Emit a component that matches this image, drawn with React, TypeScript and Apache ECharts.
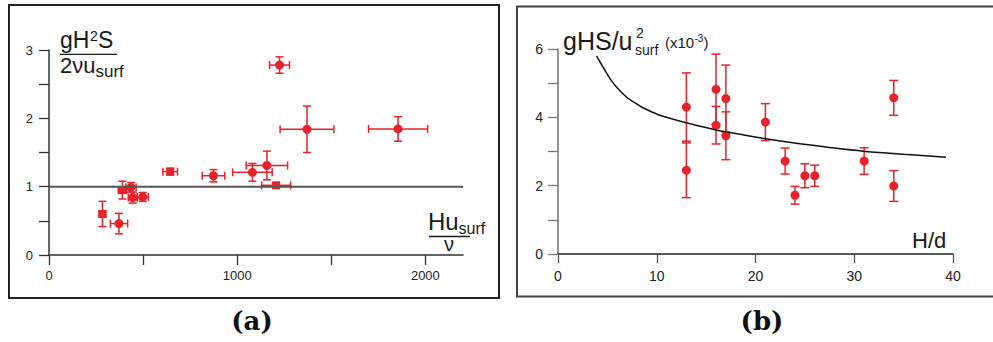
import React, { useEffect, useRef } from 'react';
import * as echarts from 'echarts';

const RED = '#e8222b';
const SANS = '"Liberation Sans", Arial, Helvetica, sans-serif';

// Panel (a): Hu_surf/ν against gH²S/(2νu_surf)
const reynolds = [284, 372, 390, 436, 445, 498, 644, 874, 1081, 1158, 1207, 1225, 1371, 1855];
const reynoldsErr = [18, 46, 22, 27, 24, 30, 39, 60, 105, 110, 77, 53, 143, 157];
const slopeRatio = [0.6, 0.46, 0.95, 0.99, 0.84, 0.85, 1.22, 1.16, 1.21, 1.31, 1.02, 2.78, 1.84, 1.845];
const slopeRatioErr = [0.185, 0.15, 0.13, 0.07, 0.08, 0.065, 0.05, 0.09, 0.13, 0.21, 0.03, 0.12, 0.34, 0.18];
const markerShape = ['rect', 'circle', 'rect', 'circle', 'circle', 'circle', 'rect', 'circle', 'circle', 'circle', 'rect', 'circle', 'circle', 'circle'];
const referenceLevel = 1;

const xTicksA = [0, 500, 1000, 1500, 2000];
const xLabelsA = [0, 1000, 2000];
const yTicksA = [0, 0.5, 1, 1.5, 2, 2.5, 3];
const yLabelsA = [0, 1, 2, 3];

// Panel (b): H/d against gHS/u²_surf (×10⁻³)
const depthRatio = [13, 13, 16, 16, 17, 17, 21, 23, 24, 25, 26, 31, 34, 34];
const friction = [4.3, 2.45, 4.82, 3.77, 4.55, 3.46, 3.86, 2.72, 1.72, 2.29, 2.29, 2.72, 4.57, 1.99];
const frictionErr = [1.0, 0.8, 1.03, 0.55, 0.98, 0.7, 0.54, 0.38, 0.26, 0.35, 0.31, 0.39, 0.51, 0.45];
// model curve, sampled along its length
const modelX = [3.9, 4.5, 5.3, 6.1, 7, 7.8, 8.6, 9.4, 10.3, 11.6, 13, 14.5, 16, 17.5, 19.1, 21, 22.7, 24.5, 27.5, 30.9, 35, 39.3];
const modelY = [5.8, 5.5, 5.12, 4.83, 4.58, 4.42, 4.28, 4.17, 4.06, 3.95, 3.84, 3.73, 3.63, 3.55, 3.47, 3.37, 3.3, 3.23, 3.12, 3.01, 2.92, 2.83];

const xTicksB = [0, 10, 20, 30, 40];
const yTicksB = [0, 1, 2, 3, 4, 5, 6];
const yLabelsB = [0, 2, 4, 6];

function errorBars(capHalf: number) {
  return (_params: any, api: any) => {
    const x = api.value(0);
    const y = api.value(1);
    const ex = api.value(2);
    const ey = api.value(3);
    const style = { stroke: RED, lineWidth: 1.5, fill: 'none' };
    const kids: any[] = [];
    const seg = (x1: number, y1: number, x2: number, y2: number) =>
      kids.push({ type: 'line', shape: { x1, y1, x2, y2 }, style });
    if (ey > 0) {
      const t = api.coord([x, y + ey]);
      const b = api.coord([x, y - ey]);
      seg(t[0], t[1], b[0], b[1]);
      seg(t[0] - capHalf, t[1], t[0] + capHalf, t[1]);
      seg(b[0] - capHalf, b[1], b[0] + capHalf, b[1]);
    }
    if (ex > 0) {
      const l = api.coord([x - ex, y]);
      const r = api.coord([x + ex, y]);
      seg(l[0], l[1], r[0], r[1]);
      seg(l[0], l[1] - capHalf, l[0], l[1] + capHalf);
      seg(r[0], r[1] - capHalf, r[0], r[1] + capHalf);
    }
    return { type: 'group', children: kids };
  };
}

// text placed by its alphabetic baseline
function txt(x: number, baseline: number, text: string, size: number, align: string = 'left', font: string = SANS, weight: string = 'normal', fill = '#1a1a1a') {
  return {
    type: 'text',
    x,
    y: baseline - 0.35 * size,
    style: {
      text,
      fontSize: size,
      fontFamily: font,
      fontWeight: weight,
      fill,
      align,
      verticalAlign: 'middle',
    },
  };
}

function hline(x1: number, x2: number, y: number, color = '#1a1a1a', w = 1.3) {
  return { type: 'line', shape: { x1, y1: y, x2, y2: y }, style: { stroke: color, lineWidth: w } };
}

function axisBase(color: string) {
  return {
    axisLine: { show: true, onZero: false, lineStyle: { color, width: 1.5 } },
    splitLine: { show: false },
  };
}

const plain = (v: number) => String(v);

export default function App() {
  const ref = useRef<HTMLDivElement>(null);

  useEffect(() => {
    if (!ref.current) return;
    const chart = echarts.init(ref.current, undefined, { renderer: 'svg' });

    const labelA = { fontSize: 13, color: '#222', fontFamily: SANS, formatter: plain };
    const labelB = { fontSize: 14, color: '#222', fontFamily: SANS, formatter: plain };

    chart.setOption({
      animation: false,
      backgroundColor: '#fff',
      grid: [
        { left: 49, top: 50, width: 414, height: 205 },
        { left: 558, top: 49, width: 395, height: 205 },
      ],
      xAxis: [
        {
          type: 'value', gridIndex: 0, min: 0, max: 2200,
          ...axisBase('#333'),
          axisTick: { show: true, length: 10, customValues: xTicksA, lineStyle: { color: '#333', width: 1.3 } },
          axisLabel: { ...labelA, margin: 14, customValues: xLabelsA },
        },
        {
          type: 'value', gridIndex: 1, min: 0, max: 40,
          ...axisBase('#222'),
          axisTick: { show: true, length: 9, customValues: xTicksB, lineStyle: { color: '#555', width: 1.3 } },
          axisLabel: { ...labelB, margin: 15, customValues: xTicksB },
        },
      ],
      yAxis: [
        {
          type: 'value', gridIndex: 0, min: 0, max: 3,
          ...axisBase('#333'),
          axisTick: { show: true, length: 10, customValues: yTicksA, lineStyle: { color: '#333', width: 1.3 } },
          axisLabel: { ...labelA, margin: 16, customValues: yLabelsA },
        },
        {
          type: 'value', gridIndex: 1, min: 0, max: 6,
          ...axisBase('#777'),
          axisTick: { show: true, length: 10, customValues: yTicksB, lineStyle: { color: '#777', width: 1.3 } },
          axisLabel: { ...labelB, margin: 15, customValues: yLabelsB },
        },
      ],
      series: [
        {
          type: 'line', xAxisIndex: 0, yAxisIndex: 0, symbol: 'none', silent: true,
          lineStyle: { color: '#555', width: 2 },
          data: [[0, referenceLevel], [2200, referenceLevel]],
        },
        {
          type: 'custom', xAxisIndex: 0, yAxisIndex: 0, clip: false,
          renderItem: errorBars(4),
          encode: { x: 0, y: 1 },
          data: reynolds.map((v, i) => [v, slopeRatio[i], reynoldsErr[i], slopeRatioErr[i]]),
        },
        {
          type: 'scatter', xAxisIndex: 0, yAxisIndex: 0,
          itemStyle: { color: RED, opacity: 1 },
          data: reynolds.map((v, i) => ({
            value: [v, slopeRatio[i]],
            symbol: markerShape[i],
            symbolSize: markerShape[i] === 'rect' ? 8 : 9,
          })),
        },
        {
          type: 'line', xAxisIndex: 1, yAxisIndex: 1, symbol: 'none', smooth: 0.3, silent: true,
          lineStyle: { color: '#111', width: 1.5 },
          data: modelX.map((v, i) => [v, modelY[i]]),
        },
        {
          type: 'custom', xAxisIndex: 1, yAxisIndex: 1, clip: false,
          renderItem: errorBars(4.5),
          encode: { x: 0, y: 1 },
          data: depthRatio.map((v, i) => [v, friction[i], 0, frictionErr[i]]),
        },
        {
          type: 'scatter', xAxisIndex: 1, yAxisIndex: 1, symbol: 'circle', symbolSize: 9,
          itemStyle: { color: RED, opacity: 1 },
          data: depthRatio.map((v, i) => [v, friction[i]]),
        },
      ],
      graphic: [
        { type: 'rect', shape: { x: 9, y: 5, width: 490, height: 293 }, style: { fill: 'none', stroke: '#222', lineWidth: 2 } },
        { type: 'rect', shape: { x: 517, y: 6.5, width: 480, height: 290 }, style: { fill: 'none', stroke: '#444', lineWidth: 2 } },

        // (a) vertical quantity: gH²S / 2νu_surf
        txt(60, 47.7, 'gH', 23),
        txt(90, 41, '2', 14),
        txt(98, 47.7, 'S', 23),
        hline(60, 117, 54.3),
        txt(60, 73, '2νu', 22),
        txt(95.5, 77, 'surf', 17),

        // (a) horizontal quantity: Hu_surf / ν
        txt(428, 230, 'Hu', 24),
        txt(458.5, 234, 'surf', 16),
        hline(429, 470, 236.5),
        txt(449, 251, 'ν', 20, 'center'),

        // (b) vertical quantity: gHS/u²_surf (x10⁻³)
        txt(563, 50, 'gHS/u', 25),
        txt(636, 38, '2', 14),
        txt(635, 55, 'surf', 14),
        txt(665, 48, '(x10', 15),
        txt(694.5, 42, '-3', 10),
        txt(703.5, 48, ')', 15),

        // (b) horizontal quantity
        txt(912, 248, 'H/d', 22),

        txt(252, 330, '(a)', 26, 'center', '"DejaVu Serif", serif', 'bold', '#111'),
        txt(762, 330, '(b)', 26, 'center', '"DejaVu Serif", serif', 'bold', '#111'),
      ],
    });

    return () => chart.dispose();
  }, []);

  return (
    <div
      ref={ref}
      style={{ position: 'fixed', left: 0, top: 0, width: 993, height: 342, background: '#fff' }}
    />
  );
}
